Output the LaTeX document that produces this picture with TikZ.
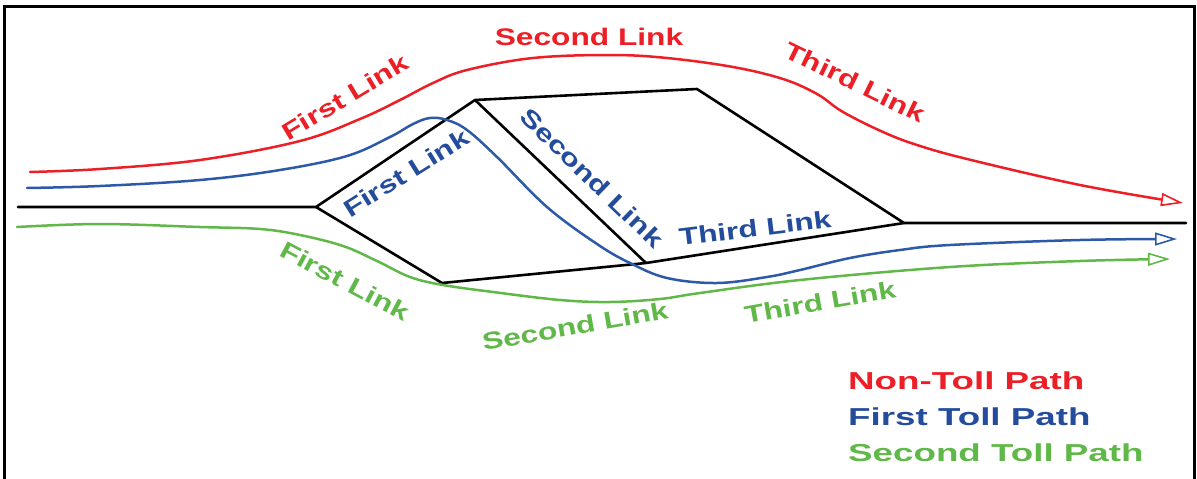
\documentclass[tikz,border=0pt]{standalone}
\usepackage{fontspec}
\setmainfont{Liberation Sans}
\newfontfamily\labfont{Liberation Sans}[FakeStretch=1.32]
\newfontfamily\legfont{Liberation Sans}[FakeStretch=1.5]
\usetikzlibrary{arrows.meta}
\definecolor{rd}{RGB}{236,30,38}
\definecolor{bl}{RGB}{44,90,168}
\definecolor{bltext}{RGB}{36,76,156}
\definecolor{gr}{RGB}{96,184,72}
\tikzset{
  road/.style={draw=black, line width=2.6pt, line join=round, line cap=round},
  pathline/.style={line width=2.5pt, line cap=round, -{Triangle[open, length=22pt, width=13pt, line width=1.6pt, fill=white]}},
  lab/.style={font=\labfont\bfseries\fontsize{24}{27}\selectfont, inner sep=0pt},
  leg/.style={font=\legfont\bfseries\fontsize{24.5}{28}\selectfont, inner sep=0pt, anchor=west},
}
\begin{document}
\begin{tikzpicture}[x=1pt, y=-1pt]
\useasboundingbox (0,0) rectangle (1197,479);
% frame
\draw[line width=3pt] (4.5,480) -- (4.5,6.5) -- (1194.5,6.5) -- (1194.5,480);

% road network
\coordinate (L) at (18,207);
\coordinate (A) at (316,207);
\coordinate (B) at (475,100);
\coordinate (C) at (697,89);
\coordinate (D) at (904,223);
\coordinate (E) at (442,283);
\coordinate (F) at (646,263);
\coordinate (R) at (1186,223);
\draw[road] (L) -- (A) -- (B) -- (C) -- (D) -- (R);
\draw[road] (A) -- (E) -- (F) -- (D);
\draw[road] (B) -- (F);

% non-toll path (red)
\draw[pathline, draw=rd] plot[smooth, tension=0.6] coordinates {
 (30,172) (100,169) (200,160) (300,141) (360,119) (400,100) (433,83) (467,70)
 (533,58) (610,55) (667,58) (733,67) (783,79) (817,94) (843,112) (883,132)
 (917,145) (967,159) (1080,185) (1183,203)};

% first toll path (blue)
\draw[pathline, draw=bl] plot[smooth, tension=0.6] coordinates {
 (27,188) (100,186) (200,180) (280,170) (347,156) (390,137) (413,124) (430,118)
 (447,120) (467,130) (497,157) (547,207) (597,244) (630,263) (667,278) (717,283)
 (767,277) (800,270) (850,258) (900,250) (950,245) (1080,240) (1177,239)};

% second toll path (green)
\draw[pathline, draw=gr] plot[smooth, tension=0.6] coordinates {
 (17,227) (100,224) (200,227) (260,229) (300,235) (343,246) (377,261) (410,277)
 (443,285) (493,292) (560,300) (610,302) (660,299) (700,293) (800,280) (950,267)
 (1080,261) (1170,259)};

% labels
\node[lab, text=rd, rotate=31] (r1) at (345,97) {First Link};
\node[lab, text=rd] (r2) at (589,37) {Second Link};
\node[lab, text=rd, rotate=-26] (r3) at (855,82) {Third Link};

\node[lab, text=bltext, rotate=32] (b1) at (406,173) {First Link};
\node[lab, text=bltext, rotate=-44] (b2) at (592,178) {Second Link};
\node[lab, text=bltext, rotate=7] (b3) at (755,228) {Third Link};

\node[lab, text=gr, rotate=-28] (g1) at (345,281) {First Link};
\node[lab, text=gr, rotate=10] (g2) at (575,326) {Second Link};
\node[lab, text=gr, rotate=10] (g3) at (820,302) {Third Link};

% legend
\node[leg, text=rd] (l1) at (848,381) {Non-Toll Path};
\node[leg, text=bltext] (l2) at (848,417) {First Toll Path};
\node[leg, text=gr] (l3) at (848,453) {Second Toll Path};
\end{tikzpicture}
\end{document}
